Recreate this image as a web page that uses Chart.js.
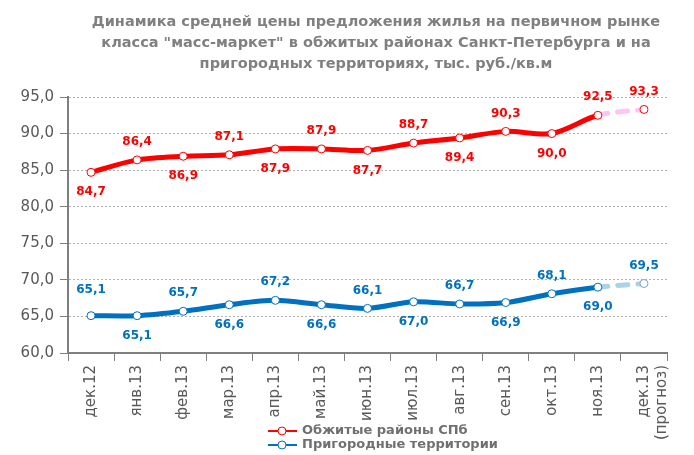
<!DOCTYPE html>
<html>
<head>
<meta charset="utf-8">
<script src="https://cdn.jsdelivr.net/npm/chart.js@4"></script>
<style>
  html, body { margin: 0; padding: 0; background: #fff; }
  #wrap { width: 694px; height: 455px; }
</style>
</head>
<body>
<div id="wrap"><canvas id="priceChart" width="694" height="455"></canvas></div>
<script>
// категории (месяцы)
const months = ["дек.12", "янв.13", "фев.13", "мар.13", "апр.13", "май.13", "июн.13",
  "июл.13", "авг.13", "сен.13", "окт.13", "ноя.13", ["дек.13", "(прогноз)"]];

// цены, тыс. руб./кв.м
const spbPrices = [84.7, 86.4, 86.9, 87.1, 87.9, 87.9, 87.7, 88.7, 89.4, 90.3, 90.0, 92.5, 93.3];
const suburbPrices = [65.1, 65.1, 65.7, 66.6, 67.2, 66.6, 66.1, 67.0, 66.7, 66.9, 68.1, 69.0, 69.5];

const seriesNames = ["Обжитые районы СПб", "Пригородные территории"];
const titleLines = [
  "Динамика средней цены предложения жилья на первичном рынке",
  "класса \"масс-маркет\" в обжитых районах Санкт-Петербурга и на",
  "пригородных территориях, тыс. руб./кв.м"
];

// где подпись: над точкой (1) или под ней (-1)
const spbLabelSide = [-1, 1, -1, 1, -1, 1, -1, 1, -1, 1, -1, 1, 1];
const suburbLabelSide = [1, -1, 1, -1, 1, -1, 1, -1, 1, -1, 1, -1, 1];

const FONT = "'DejaVu Sans', sans-serif";
const RED = "#ff0000";
const BLUE = "#0070c0";
const lastIdx = months.length - 1;

const fmt = v => v.toFixed(1).replace(".", ",");

// подписи значений, заголовок и легенда
const extras = {
  id: "extras",
  afterDatasetsDraw(chart) {
    const ctx = chart.ctx;
    ctx.save();
    ctx.font = "bold 12px " + FONT;
    ctx.textAlign = "center";
    ctx.textBaseline = "middle";
    const sides = [spbLabelSide, suburbLabelSide];
    chart.data.datasets.forEach((ds, i) => {
      const meta = chart.getDatasetMeta(i);
      ctx.fillStyle = i === 0 ? RED : BLUE;
      meta.data.forEach((pt, j) => {
        const s = sides[i][j];
        let dy = s > 0 ? -18 : 20;
        if (i === 1 && j === 0) dy = -26;
        ctx.fillText(fmt(ds.data[j]), pt.x, pt.y + dy);
      });
    });
    ctx.restore();
  },
  afterDraw(chart) {
    const ctx = chart.ctx;
    ctx.save();
    ctx.fillStyle = "#808080";
    ctx.font = "bold 14.5px " + FONT;
    ctx.textAlign = "center";
    ctx.textBaseline = "middle";
    titleLines.forEach((t, i) => ctx.fillText(t, 376, 22 + i * 21));

    // легенда
    ctx.font = "bold 13px " + FONT;
    ctx.textAlign = "left";
    [RED, BLUE].forEach((c, i) => {
      const y = 431 + i * 14;
      ctx.strokeStyle = c;
      ctx.lineWidth = 2;
      ctx.beginPath();
      ctx.moveTo(268, y);
      ctx.lineTo(297, y);
      ctx.stroke();
      ctx.beginPath();
      ctx.arc(282, y, 4, 0, Math.PI * 2);
      ctx.fillStyle = "#fff";
      ctx.fill();
      ctx.lineWidth = 1;
      ctx.stroke();
      ctx.fillStyle = "#707070";
      ctx.fillText(seriesNames[i], 302, y);
    });
    ctx.restore();
  }
};

function lineSet(label, data, color, forecastColor) {
  return {
    label: label,
    data: data,
    borderColor: color,
    borderWidth: 5,
    borderCapStyle: "round",
    tension: 0.3,
    pointRadius: 4,
    pointBorderWidth: 1,
    pointBackgroundColor: "#fff",
    pointBorderColor: data.map((v, j) => j === lastIdx ? (color === RED ? RED : "#7f9fd0") : color),
    segment: {
      borderColor: c => c.p1DataIndex === lastIdx ? forecastColor : color,
      borderDash: c => c.p1DataIndex === lastIdx ? [10, 10] : undefined
    }
  };
}

new Chart(document.getElementById("priceChart"), {
  type: "line",
  data: {
    labels: months,
    datasets: [
      lineSet(seriesNames[0], spbPrices, RED, "#ffc4f6"),
      lineSet(seriesNames[1], suburbPrices, BLUE, "#a9d3e6")
    ]
  },
  options: {
    responsive: false,
    animation: false,
    layout: { padding: { top: 97, right: 27, left: 0, bottom: 0 } },
    plugins: {
      legend: { display: false },
      tooltip: { enabled: false }
    },
    scales: {
      x: {
        offset: true,
        afterFit: s => { s.height = 102; },
        grid: {
          offset: true,
          drawOnChartArea: false,
          tickLength: 8,
          color: "#7f7f7f"
        },
        border: { color: "#7f7f7f", width: 2 },
        ticks: {
          minRotation: 90,
          maxRotation: 90,
          autoSkip: false,
          padding: 4,
          color: "#595959",
          font: { family: FONT, size: 15 }
        }
      },
      y: {
        min: 60,
        max: 95,
        afterFit: s => { s.width = 68; },
        grid: {
          color: "#b0b0b0",
          tickColor: "#7f7f7f",
          tickBorderDash: [],
          tickLength: 8
        },
        border: { color: "#7f7f7f", width: 2, dash: [2, 2] },
        ticks: {
          stepSize: 5,
          padding: 6,
          color: "#595959",
          font: { family: FONT, size: 15 },
          callback: v => fmt(v)
        }
      }
    }
  },
  plugins: [extras]
});
</script>
</body>
</html>
